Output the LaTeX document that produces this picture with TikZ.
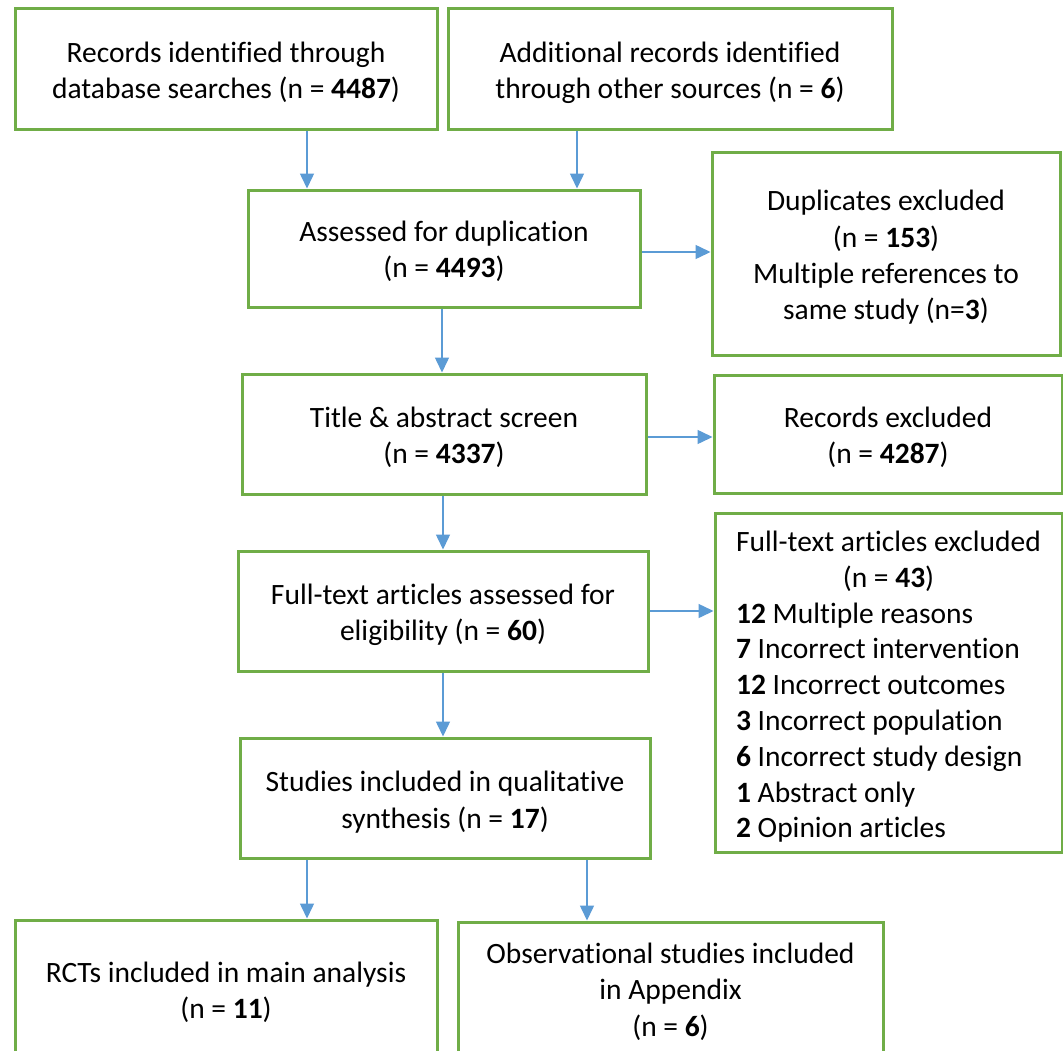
\documentclass[tikz,border=0pt]{standalone}
\usepackage{fontspec}
\setmainfont{Carlito}[Ligatures=NoCommon]
\usetikzlibrary{arrows.meta}
\definecolor{boxgreen}{HTML}{70AD47}
\definecolor{arrblue}{HTML}{5B9BD5}
\begin{document}
\begin{tikzpicture}[x=1pt,y=-1pt,
  box/.style={draw=boxgreen,line width=3pt,inner sep=0pt},
  txt/.style={inner sep=0pt,align=center,font=\fontsize{29.5}{36.3}\selectfont},
  arr/.style={draw=arrblue,line width=1.5pt,-{Triangle[width=14pt,length=15pt]}}]
\useasboundingbox (0,0) rectangle (1063,1050);
\clip (0,0) rectangle (1063,1050);
\fill[white] (0,0) rectangle (1063,1050);
\node[box,minimum width=422pt,minimum height=121pt] (b1) at (226,68.5) {};
\node[txt] (t1) at ([yshift=-4pt]b1.center)
  {Records identified through\\database searches (n = \textbf{4487})};
\node[box,minimum width=444pt,minimum height=121pt] (b2) at (670,68.5) {};
\node[txt] (t2) at ([yshift=-4pt]b2.center)
  {Additional records identified\\through other sources (n = \textbf{6})};
\node[box,minimum width=392pt,minimum height=117pt] (b3) at (444,248.5) {};
\node[txt] (t3) at ([yshift=-3pt]b3.center)
  {Assessed for duplication\\(n = \textbf{4493})};
\node[box,minimum width=348pt,minimum height=203pt] (b4) at (886,253.5) {};
\node[txt] (t4) at ([yshift=-4pt]b4.center)
  {Duplicates excluded\\(n = \textbf{153})\\Multiple references to\\same study (n=\textbf{3})};
\node[box,minimum width=404pt,minimum height=120pt] (b5) at (444,434) {};
\node[txt] (t5) at ([yshift=-3pt]b5.center)
  {Title \& abstract screen\\(n = \textbf{4337})};
\node[box,minimum width=348pt,minimum height=118pt] (b6) at (888,434) {};
\node[txt] (t6) at ([yshift=-3pt]b6.center)
  {Records excluded\\(n = \textbf{4287})};
\node[box,minimum width=410pt,minimum height=120pt] (b7) at (443,611) {};
\node[txt] (t7) at ([yshift=-4pt]b7.center)
  {Full-text articles assessed for\\eligibility (n = \textbf{60})};
\node[box,minimum width=347pt,minimum height=339pt] (b8) at (888.5,682.5) {};
\node[txt,font=\fontsize{29.5}{35.8}\selectfont] (t8) at ([yshift=-5pt]b8.center)
  {\begin{tabular}{@{}l@{}}
   \multicolumn{1}{@{}c@{}}{Full-text articles excluded}\\
   \multicolumn{1}{@{}c@{}}{(n = \textbf{43})}\\
   \textbf{12} Multiple reasons\\
   \textbf{7} Incorrect intervention\\
   \textbf{12} Incorrect outcomes\\
   \textbf{3} Incorrect population\\
   \textbf{6} Incorrect study design\\
   \textbf{1} Abstract only\\
   \textbf{2} Opinion articles
   \end{tabular}};
\node[box,minimum width=410pt,minimum height=120pt] (b9) at (445,798) {};
\node[txt] (t9) at ([yshift=-4pt]b9.center)
  {Studies included in qualitative\\synthesis (n = \textbf{17})};
\node[box,minimum width=422pt,minimum height=140pt] (b10) at (226,990) {};
\node[txt] (t10) at ([yshift=-2pt]b10.center)
  {RCTs included in main analysis\\(n = \textbf{11})};
\node[box,minimum width=425pt,minimum height=136pt] (b11) at (670.5,990) {};
\node[txt] (t11) at ([yshift=-1.5pt]b11.center)
  {Observational studies included\\in Appendix\\(n = \textbf{6})};
\draw[arr] ([xshift=81pt]b1.south) -- ([xshift=81pt]b1.south |- b3.north);
\draw[arr] ([xshift=-93pt]b2.south) -- ([xshift=-93pt]b2.south |- b3.north);
\draw[arr] ([yshift=-3.5pt]b3.east) -- ([yshift=-3.5pt]b3.east -| b4.west);
\draw[arr] ([xshift=-2pt]b3.south) -- ([xshift=-2pt]b3.south |- b5.north);
\draw[arr] ([yshift=-3pt]b5.east) -- ([yshift=-3pt]b5.east -| b6.west);
\draw[arr] ([xshift=-1pt]b5.south) -- ([xshift=-1pt]b5.south |- b7.north);
\draw[arr] (b7.east) -- (b7.east -| b8.west);
\draw[arr] (b7.south) -- (b7.south |- b9.north);
\draw[arr] ([xshift=-138pt]b9.south) -- ([xshift=-138pt]b9.south |- b10.north);
\draw[arr] ([xshift=142pt]b9.south) -- ([xshift=142pt]b9.south |- b11.north);
\end{tikzpicture}
\end{document}
